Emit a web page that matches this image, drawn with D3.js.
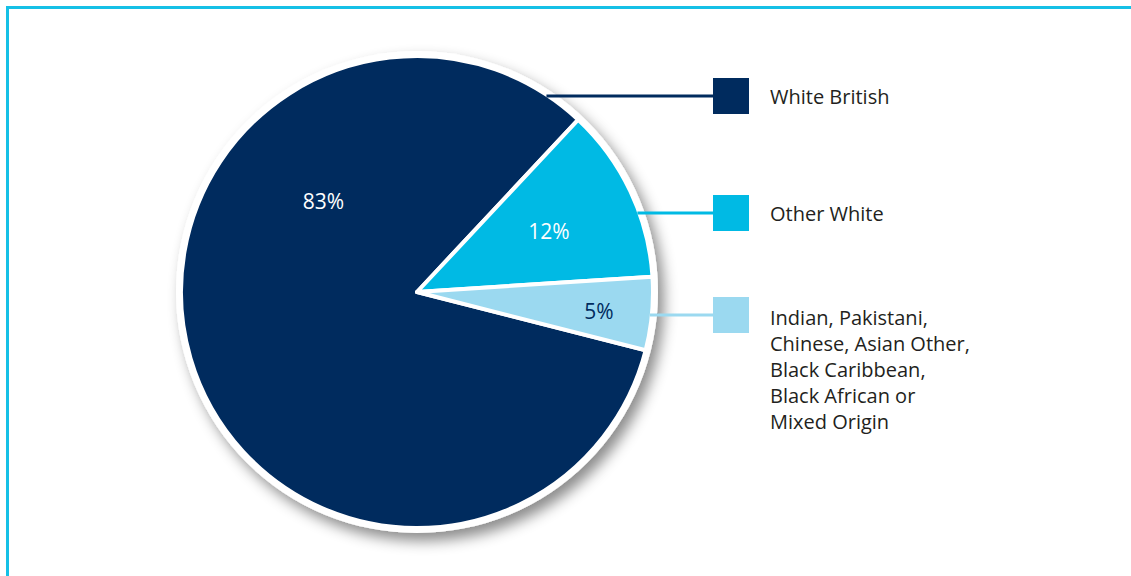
<!DOCTYPE html>
<html>
  <head>
    <meta charset="utf-8" />
    <script src="https://cdn.jsdelivr.net/npm/d3@7"></script>
    <style>
      body { margin: 0; background: #fff; }
      svg { display: block; }
    </style>
  </head>

  <body>
    <div id="chart"></div>
  </body>

  <script>
    // data
    const categories = ['White British', 'Other White', 'Indian, Pakistani, Chinese, Asian Other, Black Caribbean, Black African or Mixed Origin']
    const values = [83, 12, 5]
    const labelLines = [
      ['White British'],
      ['Other White'],
      ['Indian, Pakistani,', 'Chinese, Asian Other,', 'Black Caribbean,', 'Black African or', 'Mixed Origin']
    ]
    const colors = ['#002b5e', '#00bae4', '#9bd9f0']
    const pctColors = ['#ffffff', '#ffffff', '#002b5e']

    function createPie () {
      let width = 1131, height = 576
      let cx = 417, cy = 292, radius = 236

      let svg = d3.select('#chart')
        .append('svg')
        .attr('width', width)
        .attr('height', height)

      // frame (top and left only)
      svg.append('path')
        .attr('d', 'M7.5,' + height + ' V7.5 H' + width)
        .attr('fill', 'none')
        .attr('stroke', '#15c0e6')
        .attr('stroke-width', 3)

      // drop shadow
      let defs = svg.append('defs')
      let filter = defs.append('filter')
        .attr('id', 'shadow')
        .attr('x', '-20%').attr('y', '-20%')
        .attr('width', '140%').attr('height', '140%')
      filter.append('feDropShadow')
        .attr('dx', 6).attr('dy', 8)
        .attr('stdDeviation', 7)
        .attr('flood-color', '#000')
        .attr('flood-opacity', 0.45)

      let g = svg.append('g')
        .attr('transform', 'translate(' + cx + ',' + cy + ')')

      // white rim with shadow
      g.append('circle')
        .attr('r', radius + 5)
        .attr('fill', '#fff')
        .attr('filter', 'url(#shadow)')

      let start = 104.3 * Math.PI / 180
      let pie = d3.pie()
        .sort(null)
        .startAngle(start)
        .endAngle(start + 2 * Math.PI)
      let arcs = pie(values)

      let arc = d3.arc().innerRadius(0).outerRadius(radius)

      g.selectAll('path.slice')
        .data(arcs)
        .enter().append('path')
        .attr('class', 'slice')
        .attr('d', arc)
        .attr('fill', (d, i) => colors[i])
        .attr('stroke', '#fff')
        .attr('stroke-width', 4)
        .attr('stroke-linejoin', 'round')

      // percentage labels: [angle in degrees, radius]
      let labelPos = [[314, 130], [65.6, 145], [96.3, 183]]
      g.selectAll('text.pct')
        .data(arcs)
        .enter().append('text')
        .attr('class', 'pct')
        .attr('x', (d, i) => labelPos[i][1] * Math.sin(labelPos[i][0] * Math.PI / 180))
        .attr('y', (d, i) => -labelPos[i][1] * Math.cos(labelPos[i][0] * Math.PI / 180))
        .attr('dy', '0.35em')
        .attr('text-anchor', 'middle')
        .attr('font-family', '"Open Sans", sans-serif')
        .attr('font-size', 21)
        .attr('fill', (d, i) => pctColors[i])
        .text((d, i) => values[i] + '%')

      // legend
      let boxY = [96, 213, 315]
      let boxX = 713, boxSize = 36

      let legend = svg.selectAll('g.legend')
        .data(categories)
        .enter().append('g')
        .attr('class', 'legend')

      legend.append('line')
        .attr('x1', (d, i) => cx + Math.sqrt(radius * radius - Math.pow(boxY[i] - cy, 2)) - 2)
        .attr('x2', boxX)
        .attr('y1', (d, i) => boxY[i])
        .attr('y2', (d, i) => boxY[i])
        .attr('stroke', (d, i) => colors[i])
        .attr('stroke-width', 3)

      legend.append('rect')
        .attr('x', boxX)
        .attr('y', (d, i) => boxY[i] - boxSize / 2)
        .attr('width', boxSize)
        .attr('height', boxSize)
        .attr('fill', (d, i) => colors[i])

      legend.append('text')
        .attr('x', 770)
        .attr('y', (d, i) => labelLines[i].length > 1 ? boxY[i] + 10 : boxY[i] + 8)
        .attr('font-family', '"Open Sans", sans-serif')
        .attr('font-size', 20)
        .attr('fill', '#231f20')
        .selectAll('tspan')
        .data((d, i) => labelLines[i])
        .enter().append('tspan')
        .attr('x', 770)
        .attr('dy', (d, j) => j === 0 ? 0 : 26)
        .text(d => d)
    }

    createPie()
  </script>
</html>
